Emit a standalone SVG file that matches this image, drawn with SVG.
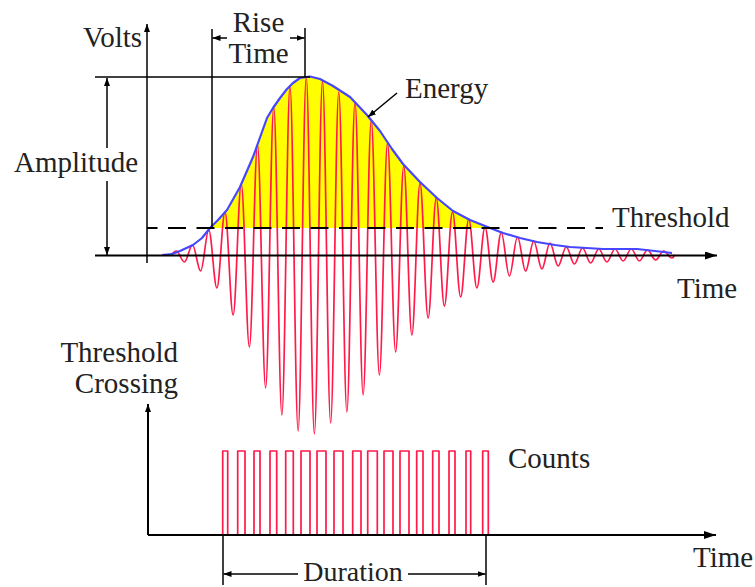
<svg xmlns="http://www.w3.org/2000/svg" width="755" height="587" viewBox="0 0 755 587">
<style>
.t{font-family:"Liberation Serif","Times New Roman",serif;font-size:29px;fill:#222}
.ax{stroke:#000;stroke-width:2;fill:none}
.thin{stroke:#000;stroke-width:1.5;fill:none}
.red{stroke:#ff1a4a;stroke-width:1.7;fill:none;stroke-linejoin:round}
.env{stroke:#4646ff;stroke-width:2.2;fill:none;stroke-linejoin:round}
</style>
<defs>
<marker id="ah" markerUnits="userSpaceOnUse" markerWidth="12" markerHeight="8" refX="12" refY="4" orient="auto"><path d="M0,0 L12,4 L0,8 z" fill="#000"/></marker>
<marker id="sa" markerUnits="userSpaceOnUse" markerWidth="8" markerHeight="6" refX="8" refY="3" orient="auto"><path d="M0,0 L8,3 L0,6 z" fill="#000"/></marker>
</defs>
<g id="energy-fill">
<polygon fill="#ffff00" points="210,228 218,220 227,210 240,187 253,157 267,118 273,108 280,98 287,89 293,83 300,78 310,76.5 320,79 333,86 350,97 367,115 380,131 392,149 403,164 420,182 437,198 453,211 470,220 490,228"/>
</g>
<g id="waveform">
<path class="red" d="M162,255 L170,255 C173.4,255 173.35,251 176.25,251 S181.48,262 184.38,262 S189.6,245 192.5,245 S197.73,271 200.63,271 S205.85,230 208.75,230 S213.98,288 216.88,288 S222.1,212 225,212 S230.23,315 233.13,315 S238.35,184 241.25,184 S246.48,347 249.38,347 S254.6,144.5 257.5,144.5 S262.73,388 265.63,388 S270.85,107 273.75,107 S278.98,415 281.88,415 S287.1,86 290,86 S295.23,431 298.13,431 S303.35,77 306.25,77 S311.48,434 314.38,434 S319.6,81 322.5,81 S327.73,423 330.63,423 S335.85,92 338.75,92 S343.98,412 346.88,412 S352.1,102 355,102 S360.23,395 363.13,395 S368.35,120 371.25,120 S376.48,375 379.38,375 S384.6,143 387.5,143 S392.73,352 395.63,352 S400.85,166 403.75,166 S408.98,335 411.88,335 S417.1,183 420,183 S425.23,318 428.13,318 S433.35,198 436.25,198 S441.48,306 444.38,306 S449.6,212 452.5,212 S457.73,297 460.63,297 S465.85,219 468.75,219 S473.98,288 476.88,288 S482.1,227 485,227 S490.23,282 493.13,282 S498.35,232.5 501.25,232.5 S506.48,276 509.38,276 S514.6,237 517.5,237 S522.73,271 525.63,271 S530.85,241 533.75,241 S538.98,269 541.88,269 S547.1,243 550,243 S555.23,266 558.13,266 S563.35,247 566.25,247 S571.48,264 574.38,264 S579.6,248 582.5,248 S587.73,263 590.63,263 S595.85,249 598.75,249 S603.98,262 606.88,262 S612.1,249 615,249 S620.23,261 623.13,261 S628.35,249 631.25,249 S636.48,261 639.38,261 S644.6,250 647.5,250 S652.73,260 655.63,260 S660.85,251 663.75,251 S668.98,258 671.88,258 S673,255 675,255"/>
</g>
<g id="envelope">
<polyline class="env" points="162,255 172,254 180,251 193,245 202,238 210,228 218,220 227,210 240,187 253,157 267,118 273,108 280,98 287,89 293,83 300,78 310,76.5 320,79 333,86 350,97 367,115 380,131 392,149 403,164 420,182 437,198 453,211 470,220 490,228 503,233 520,238 537,242 555,245 570,247 603,249 637,249 655,251 672,253"/>
</g>
<g id="counts">
<path class="red" d="M222.7,535 V451 H227.7 V535 M237.7,535 V451 H245 V535 M254,535 V451 H260 V535 M270,535 V451 H276.7 V535 M285.7,535 V451 H293.3 V535 M301,535 V451 H310 V535 M317,535 V451 H326 V535 M334,535 V451 H343 V535 M352.7,535 V451 H361 V535 M367.7,535 V451 H377.3 V535 M384,535 V451 H393 V535 M400,535 V451 H409 V535 M416.7,535 V451 H423 V535 M432.7,535 V451 H439 V535 M449,535 V451 H455 V535 M466,535 V451 H470.7 V535 M482.7,535 V451 H488.3 V535"/>
</g>
<g id="connectors">
<line class="thin" x1="147" y1="263" x2="147" y2="24" marker-end="url(#sa)"/>
<line class="ax" x1="95" y1="255.5" x2="717" y2="255.5" marker-end="url(#ah)"/>
<line class="thin" x1="95" y1="77" x2="310" y2="77"/>
<line class="ax" x1="147" y1="228" x2="603" y2="228" stroke-dasharray="18 10.5" stroke-dashoffset="7.5"/>
<line class="thin" x1="107" y1="148" x2="107" y2="78" marker-end="url(#sa)"/>
<line class="thin" x1="107" y1="181" x2="107" y2="255" marker-end="url(#sa)"/>
<line class="thin" x1="212" y1="29" x2="212" y2="228"/>
<line class="thin" x1="305" y1="28" x2="305" y2="77"/>
<line class="thin" x1="227" y1="38" x2="212.5" y2="38" marker-end="url(#sa)"/>
<line class="thin" x1="290" y1="38" x2="304.5" y2="38" marker-end="url(#sa)"/>
<line class="thin" x1="397" y1="93" x2="368" y2="117" marker-end="url(#sa)"/>
<line class="ax" x1="148" y1="535" x2="148" y2="404" marker-end="url(#sa)"/>
<line class="ax" x1="148" y1="535" x2="716" y2="535" marker-end="url(#ah)"/>
<line class="thin" x1="223" y1="535" x2="223" y2="585"/>
<line class="thin" x1="486" y1="535" x2="486" y2="585"/>
<line class="thin" x1="298" y1="574" x2="223.5" y2="574" marker-end="url(#sa)"/>
<line class="thin" x1="408" y1="574" x2="485.5" y2="574" marker-end="url(#sa)"/>
</g>
<g id="labels">
<text class="t" x="83" y="47">Volts</text>
<text class="t" x="258.5" y="32" text-anchor="middle">Rise</text>
<text class="t" x="258.5" y="63" text-anchor="middle">Time</text>
<text class="t" x="14" y="172">Amplitude</text>
<text class="t" x="405" y="98">Energy</text>
<text class="t" x="612" y="227">Threshold</text>
<text class="t" x="677" y="298">Time</text>
<text class="t" x="178" y="362" text-anchor="end">Threshold</text>
<text class="t" x="178" y="393" text-anchor="end">Crossing</text>
<text class="t" x="508" y="468">Counts</text>
<text class="t" x="693" y="567">Time</text>
<text class="t" x="353" y="581" text-anchor="middle" style="font-size:28px">Duration</text>
</g>
</svg>
